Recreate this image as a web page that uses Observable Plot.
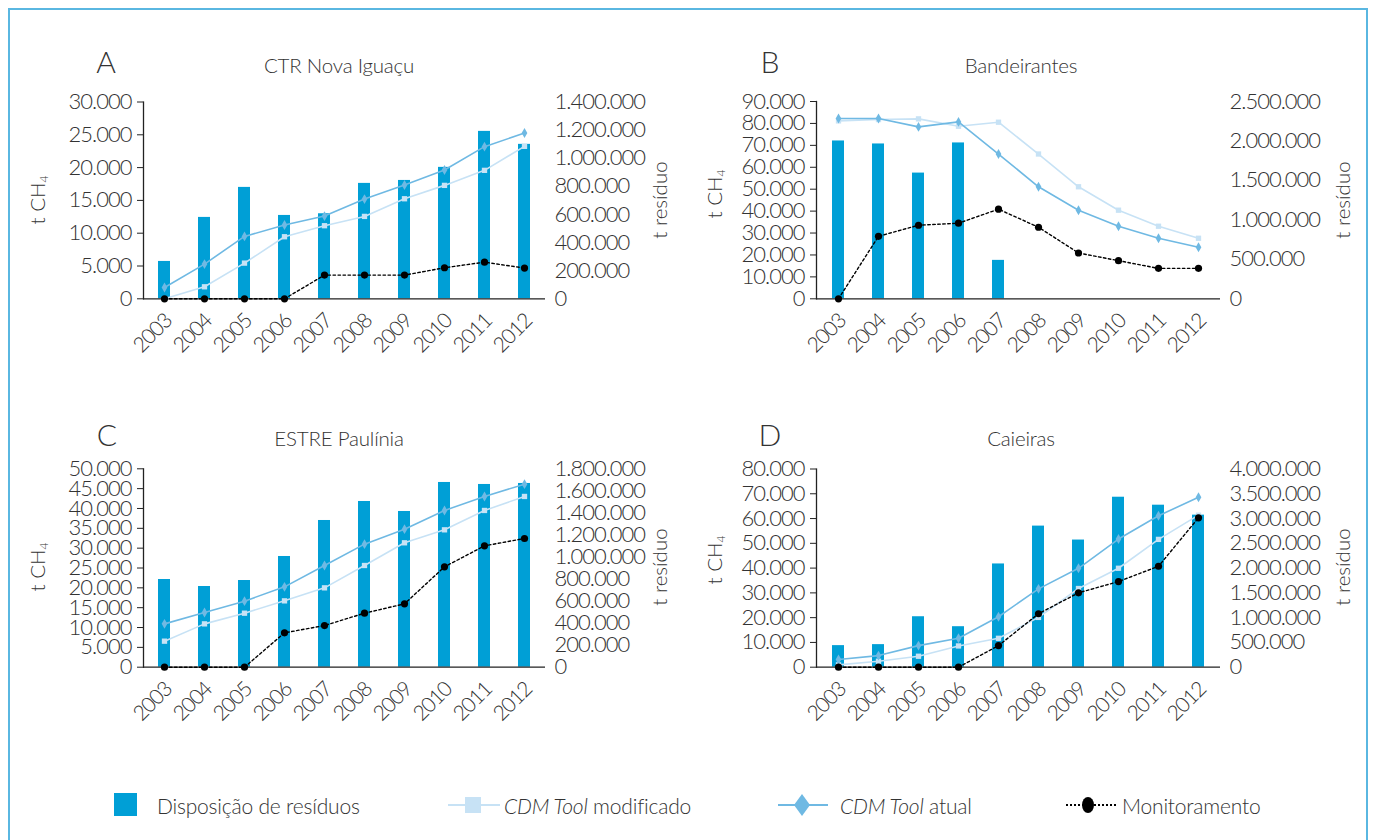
<!DOCTYPE html>
<html><head><meta charset="utf-8">
<script src="https://cdn.jsdelivr.net/npm/d3@7"></script>
<script src="https://cdn.jsdelivr.net/npm/@observablehq/plot@0.6"></script>
<style>
body{margin:0;background:#fff;font-family:Lato,"Open Sans",sans-serif;color:#333;}
#root{position:relative;width:1375px;height:840px;overflow:hidden;background:#fff;}
.frame{position:absolute;left:8px;top:8px;width:1360px;height:900px;border:2px solid #5ab7e1;box-sizing:border-box;}
.abs{position:absolute;white-space:nowrap;font-weight:300;}
.letter{font-size:30px;line-height:30px;transform:translateX(-50%);}
.title{font-size:20.5px;line-height:20px;transform:translateX(-50%);letter-spacing:-0.2px;}
.ylab{font-size:20.5px;line-height:20px;transform:translate(-50%,-50%) rotate(-90deg);}
.ylab sub{font-size:12px;vertical-align:-3px;}
.leg{font-size:21px;line-height:21px;top:795px;letter-spacing:-0.2px;}
svg.plot{position:absolute;overflow:visible;}
</style></head>
<body><div id="root"><div class="frame"></div></div>
<script>
// ---- data ----
const years = [2003, 2004, 2005, 2006, 2007, 2008, 2009, 2010, 2011, 2012];

// A - CTR Nova Iguaçu
const residuosA = [265800, 579000, 792500, 593000, 605000, 821000, 842000, 935000, 1191000, 1098700];
const cdmModA   = [0, 1830, 5440, 9460, 11140, 12560, 15250, 17290, 19580, 23240];
const cdmAtualA = [1730, 5290, 9510, 11240, 12610, 15200, 17340, 19630, 23190, 25270];
const monitA    = [0, 0, 0, 0, 3610, 3610, 3610, 4730, 5590, 4680];

// B - Bandeirantes
const residuosB = [2000000, 1962000, 1593000, 1975000, 487000, null, null, null, null, null];
const cdmModB   = [81150, 81760, 82070, 78710, 80540, 66050, 51100, 40420, 33100, 27610];
const cdmAtualB = [82220, 82220, 78410, 80700, 66050, 51100, 40420, 33100, 27610, 23490];
const monitB    = [0, 28520, 33560, 34480, 40880, 32640, 20900, 17390, 13880, 13880];

// C - ESTRE Paulínia
const residuosC = [795600, 732100, 786500, 1004400, 1331100, 1503500, 1412800, 1676000, 1657800, 1666900];
const cdmModC   = [6560, 10920, 13610, 16720, 20000, 25630, 31350, 34620, 39500, 43030];
const cdmAtualC = [10920, 13780, 16640, 20250, 25630, 31010, 34790, 39500, 43030, 46130];
const monitC    = [0, 0, 0, 8660, 10500, 13610, 15970, 25290, 30590, 32440];

// D - Caieiras
const residuosD = [435500, 455600, 1018400, 817400, 2083800, 2847600, 2566200, 3430500, 3269700, 3068700];
const cdmModD   = [940, 2410, 4420, 8580, 11660, 20100, 31760, 39930, 51590, 61370];
const cdmAtualD = [3080, 4690, 8710, 11660, 20370, 31630, 39930, 51730, 61110, 68610];
const monitD    = [0, 0, 0, 0, 8710, 21580, 30020, 34570, 40740, 60300];

// tick labels
const ticksLeftA = d3.range(0, 30001, 5000),  ticksRightA = d3.range(0, 1400001, 200000);
const ticksLeftB = d3.range(0, 90001, 10000), ticksRightB = d3.range(0, 2500001, 500000);
const ticksLeftC = d3.range(0, 50001, 5000),  ticksRightC = d3.range(0, 1800001, 200000);
const ticksLeftD = d3.range(0, 80001, 10000), ticksRightD = d3.range(0, 4000001, 500000);

const titles = ["CTR Nova Iguaçu", "Bandeirantes", "ESTRE Paulínia", "Caieiras"];
const letters = ["A", "B", "C", "D"];
const legendLabels = ["Disposição de resíduos", "CDM Tool modificado", "CDM Tool atual", "Monitoramento"];

// ---- styles ----
const C_BAR = "#009fd6", C_MOD = "#c7e2f5", C_ATUAL = "#6fb9e3", C_MON = "#000";
const fmt = d => d3.format(",")(d).replace(/,/g, ".");
const root = document.getElementById("root");

function addDiv(cls, html, left, top) {
  const d = document.createElement("div");
  d.className = "abs " + cls;
  d.innerHTML = html;
  d.style.left = left + "px";
  d.style.top = top + "px";
  root.appendChild(d);
  return d;
}

function panel(cfg) {
  const data = years.map((y, i) => ({
    year: String(y), res: cfg.res[i], mod: cfg.mod[i], atual: cfg.atual[i], mon: cfg.mon[i]
  }));
  const common = {
    width: cfg.width, height: cfg.height,
    marginLeft: cfg.ml, marginRight: cfg.mr, marginTop: cfg.mt, marginBottom: cfg.mb,
    x: {domain: years.map(String), paddingInner: 0.69, paddingOuter: 0.345, axis: null},
    style: {fontFamily: "Lato, 'Open Sans', sans-serif", fontSize: "22px", fontWeight: 300,
            color: "#333", letterSpacing: "-1px", background: "transparent", overflow: "visible"}
  };
  const bars = Plot.plot({
    ...common,
    y: {domain: [0, cfg.rMax], axis: null},
    marks: [
      Plot.barY(data.filter(d => d.res != null), {x: "year", y: "res", fill: C_BAR}),
      Plot.axisY(cfg.rTicks, {anchor: "right", tickSize: 0, tickPadding: 9, tickFormat: fmt, label: null})
    ]
  });
  const lines = Plot.plot({
    ...common,
    y: {domain: [0, cfg.yMax], axis: null},
    marks: [
      Plot.ruleY([0], {stroke: "#222", strokeWidth: 1.3}),
      Plot.frame({anchor: "left", stroke: "#222", strokeWidth: 1.3}),
      Plot.axisY(cfg.yTicks, {anchor: "left", tickSize: 6, tickPadding: 6, tickFormat: fmt, label: null, stroke: "#222"}),
      Plot.axisX({tickSize: 0, tickRotate: -45, tickPadding: 18.5, dx: 4, fontSize: 21, label: null}),
      Plot.lineY(data, {x: "year", y: "mod", stroke: C_MOD, strokeWidth: 1.6}),
      Plot.dot(data, {x: "year", y: "mod", symbol: "square", fill: C_MOD, r: 3}),
      Plot.lineY(data, {x: "year", y: "atual", stroke: C_ATUAL, strokeWidth: 1.6}),
      Plot.dot(data, {x: "year", y: "atual", symbol: "diamond", fill: C_ATUAL, r: 3}),
      Plot.lineY(data, {x: "year", y: "mon", stroke: C_MON, strokeWidth: 1.4, strokeDasharray: "2.5,2.5"}),
      Plot.dot(data, {x: "year", y: "mon", fill: C_MON, r: 3.6})
    ]
  });
  for (const s of [bars, lines]) {
    s.classList.add("plot");
    s.style.left = cfg.left + "px";
    s.style.top = cfg.top + "px";
    root.appendChild(s);
  }
  addDiv("letter", cfg.letter, cfg.letterX, cfg.titleY - 9);
  addDiv("title", cfg.title, cfg.titleX, cfg.titleY);
  addDiv("ylab", "t CH<sub>4</sub>", cfg.ylX, cfg.ylY);
  addDiv("ylab", "t resíduo", cfg.yrX, cfg.yrY);
}

panel({letter: letters[0], title: titles[0], left: 0, top: 0, width: 690, height: 380,
  ml: 143, mr: 145, mt: 101.5, mb: 81.7, yMax: 30000, yTicks: ticksLeftA, rMax: 1400000, rTicks: ticksRightA,
  res: residuosA, mod: cdmModA, atual: cdmAtualA, mon: monitA,
  letterX: 106, titleX: 339, titleY: 55, ylX: 40, ylY: 200, yrX: 659, yrY: 200});
panel({letter: letters[1], title: titles[1], left: 690, top: 0, width: 685, height: 380,
  ml: 126, mr: 155, mt: 101, mb: 81.7, yMax: 90000, yTicks: ticksLeftB, rMax: 2500000, rTicks: ticksRightB,
  res: residuosB, mod: cdmModB, atual: cdmAtualB, mon: monitB,
  letterX: 770, titleX: 1021, titleY: 55, ylX: 717, ylY: 194, yrX: 1342, yrY: 200});
panel({letter: letters[2], title: titles[2], left: 0, top: 370, width: 690, height: 380,
  ml: 143, mr: 145, mt: 98.3, mb: 83.3, yMax: 50000, yTicks: ticksLeftC, rMax: 1800000, rTicks: ticksRightC,
  res: residuosC, mod: cdmModC, atual: cdmAtualC, mon: monitC,
  letterX: 107, titleX: 339, titleY: 428, ylX: 40, ylY: 567, yrX: 659, yrY: 567});
panel({letter: letters[3], title: titles[3], left: 690, top: 370, width: 685, height: 380,
  ml: 126, mr: 155, mt: 98.5, mb: 83.3, yMax: 80000, yTicks: ticksLeftD, rMax: 4000000, rTicks: ticksRightD,
  res: residuosD, mod: cdmModD, atual: cdmAtualD, mon: monitD,
  letterX: 770, titleX: 1021, titleY: 428, ylX: 717, ylY: 560, yrX: 1342, yrY: 567});

// ---- legend ----
const legSvg = d3.create("svg").attr("width", 1375).attr("height", 60)
  .style("position", "absolute").style("left", "0px").style("top", "775px");
legSvg.append("rect").attr("x", 114).attr("y", 18).attr("width", 23).attr("height", 23).attr("fill", C_BAR);
legSvg.append("line").attr("x1", 448).attr("x2", 500).attr("y1", 30).attr("y2", 30).attr("stroke", C_MOD).attr("stroke-width", 2);
legSvg.append("rect").attr("x", 465).attr("y", 22).attr("width", 16).attr("height", 16).attr("fill", C_MOD);
legSvg.append("line").attr("x1", 778).attr("x2", 828).attr("y1", 30).attr("y2", 30).attr("stroke", C_ATUAL).attr("stroke-width", 2);
legSvg.append("path").attr("d", "M802,19 L810,30 L802,41 L794,30 Z").attr("fill", C_ATUAL);
legSvg.append("line").attr("x1", 1066).attr("x2", 1116).attr("y1", 30).attr("y2", 30).attr("stroke", C_MON).attr("stroke-width", 2).attr("stroke-dasharray", "2,2");
legSvg.append("ellipse").attr("cx", 1088).attr("cy", 30).attr("rx", 6).attr("ry", 8).attr("fill", C_MON);
root.appendChild(legSvg.node());
addDiv("leg", legendLabels[0], 157, 795);
addDiv("leg", "<i>CDM Tool</i> modificado", 504, 795);
addDiv("leg", "<i>CDM Tool</i> atual", 840, 795);
addDiv("leg", legendLabels[3], 1122, 795);
</script></body></html>
